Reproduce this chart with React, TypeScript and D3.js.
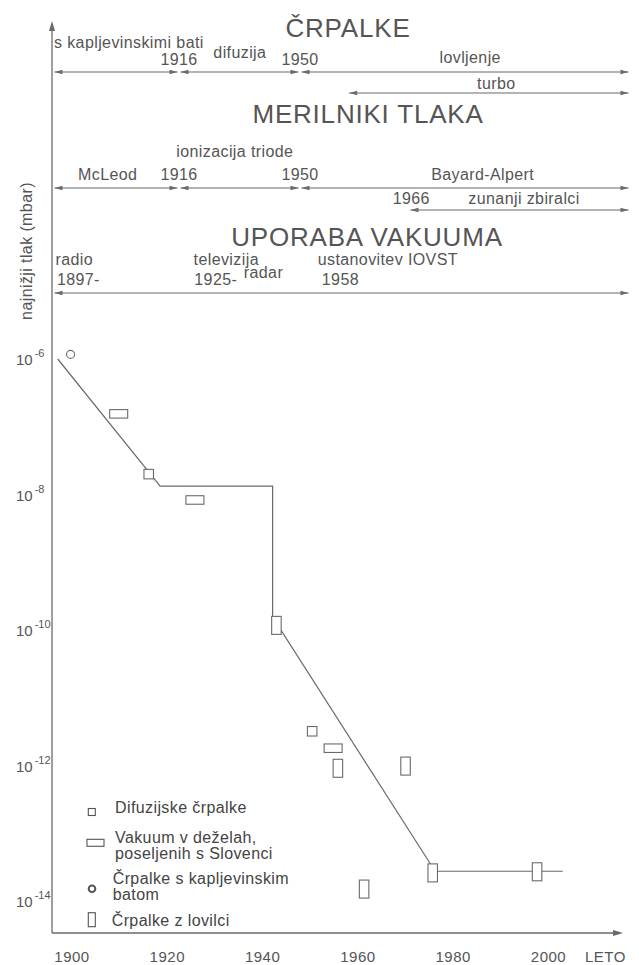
import React, { useEffect, useRef } from 'react';
import * as d3 from 'd3';

// najnizji tlak skozi leta
const lineYears = [1897, 1918.5, 1942.1, 1942.1, 1976.2, 2003];
const linePressures = [1e-6, 1.33e-8, 1.33e-8, 1.55e-10, 2.75e-14, 2.75e-14];

const kapljevinskeYears = [1899.7];
const kapljevinskePressures = [1.17e-6];
const difuzijskeYears = [1916.1, 1950.4];
const difuzijskePressures = [2.0e-8, 3.2e-12];
const slovenciYears = [1909.8, 1925.8, 1954.8];
const slovenciPressures = [1.55e-7, 8.3e-9, 1.8e-12];
const lovilciYears = [1942.9, 1955.8, 1961.3, 1970.0, 1975.7, 1997.6];
const lovilciPressures = [1.17e-10, 9.1e-13, 1.5e-14, 9.8e-13, 2.6e-14, 2.7e-14];

const xTicks = [1900, 1920, 1940, 1960, 1980, 2000];
const yTickExponents = [-6, -8, -10, -12, -14];

// casovnica zgoraj
const sectionTitles = ['ČRPALKE', 'MERILNIKI TLAKA', 'UPORABA VAKUUMA'];
const pumpBounds = [1890, 1916, 1950, 2005];
const turboSpan = [1957, 2005];
const gaugeBounds = [1890, 1916, 1950, 2005];
const externalSpan = [1966, 2005];
const useSpan = [1890, 2005];

const pumpLabels = ['s kapljevinskimi bati', '1916', 'difuzija', '1950', 'lovljenje', 'turbo'];
const pumpLabelYears = [1890.2, 1916, 1933.1, 1950, 1976.8, 1981.4];
const gaugeLabels = ['ionizacija triode', 'McLeod', '1916', '1950', 'Bayard-Alpert', '1966', 'zunanji zbiralci'];
const gaugeLabelYears = [1931.7, 1901.3, 1916, 1950, 1979, 1966.4, 1986.3];
const useLabels = ['radio', '1897-', 'televizija', '1925-', 'radar', 'ustanovitev IOVST', '1958'];
const useLabelYears = [1890.5, 1890.8, 1920.1, 1920.3, 1934.2, 1952.6, 1953.2];

const legendLabels = [
  ['Difuzijske črpalke'],
  ['Vakuum v deželah,', 'poseljenih s Slovenci'],
  ['Črpalke s kapljevinskim', 'batom'],
  ['Črpalke z lovilci'],
];

const FONT = "'Liberation Sans', Arial, Helvetica, sans-serif";
const INK = '#555';
const LINE = '#6a6a6a';

function App() {
  const svgRef = useRef<SVGSVGElement>(null);

  useEffect(() => {
    document.body.style.margin = '0';
    const width = 639;
    const height = 965;
    const axisX = 52;
    const axisY = 933;

    const x = d3.scaleLinear().domain([1900, 2000]).range([72, 548.5]);
    const y = d3.scaleLog().domain([1e-6, 1e-14]).range([359, 901]);
    const hx = d3.scaleLinear().domain([1890, 1916, 1950, 1966, 2005]).range([53, 179, 300, 409, 630]);

    const svg = d3.select(svgRef.current);
    svg.selectAll('*').remove();
    svg.attr('width', width).attr('height', height).style('font-family', FONT);

    const head = (g: any, tx: number, ty: number, dir: string, len = 8, hw = 2.2) => {
      let p;
      if (dir === 'left') p = [[tx, ty], [tx + len, ty - hw], [tx + len, ty + hw]];
      else if (dir === 'right') p = [[tx, ty], [tx - len, ty - hw], [tx - len, ty + hw]];
      else p = [[tx, ty], [tx - hw, ty + len], [tx + hw, ty + len]];
      g.append('path').attr('d', d3.line()(p as any) + 'Z').attr('fill', LINE);
    };

    const span = (g: any, a: number, b: number, yy: number) => {
      const x0 = hx(a) + 1.5;
      const x1 = hx(b) - 1.5;
      g.append('line').attr('x1', x0).attr('x2', x1).attr('y1', yy).attr('y2', yy)
        .attr('stroke', LINE).attr('stroke-width', 1.1);
      head(g, x0, yy, 'left');
      head(g, x1, yy, 'right');
    };

    const labels = (g: any, texts: string[], yrs: number[], ys: number[], anchors: string[]) => {
      texts.forEach((t, i) => {
        g.append('text')
          .attr('x', hx(yrs[i]))
          .attr('y', ys[i])
          .attr('text-anchor', anchors[i])
          .attr('font-size', 16)
          .attr('letter-spacing', 0.4)
          .attr('fill', INK)
          .text(t);
      });
    };

    // header
    const header = svg.append('g');
    const titleX = [348, 368, 367];
    const titleY = [36.5, 123, 246];
    sectionTitles.forEach((t, i) => {
      header.append('text')
        .attr('x', titleX[i]).attr('y', titleY[i])
        .attr('text-anchor', 'middle')
        .attr('font-size', 26).attr('letter-spacing', 0.8)
        .attr('fill', INK).text(t);
    });

    d3.pairs(pumpBounds).forEach(([a, b]) => span(header, a, b, 72));
    span(header, turboSpan[0], turboSpan[1], 93);
    labels(header, pumpLabels, pumpLabelYears, [48, 65, 58, 65, 63, 89],
      ['start', 'middle', 'middle', 'middle', 'middle', 'middle']);

    d3.pairs(gaugeBounds).forEach(([a, b]) => span(header, a, b, 188));
    span(header, externalSpan[0], externalSpan[1], 210);
    labels(header, gaugeLabels, gaugeLabelYears, [157, 180, 180, 180, 180, 204, 204],
      ['middle', 'middle', 'middle', 'middle', 'middle', 'middle', 'middle']);

    span(header, useSpan[0], useSpan[1], 293);
    labels(header, useLabels, useLabelYears, [265, 285, 265, 285, 278, 265, 285],
      ['start', 'start', 'start', 'start', 'start', 'start', 'start']);

    // axes
    const axes = svg.append('g');
    axes.append('line').attr('x1', axisX).attr('x2', axisX).attr('y1', 30).attr('y2', axisY)
      .attr('stroke', LINE).attr('stroke-width', 1.3);
    head(axes, axisX, 21, 'up', 10, 3);
    axes.append('line').attr('x1', axisX).attr('x2', 614).attr('y1', axisY).attr('y2', axisY)
      .attr('stroke', LINE).attr('stroke-width', 1.3);
    head(axes, 623, axisY, 'right', 10, 3);

    xTicks.forEach(t => {
      axes.append('text').attr('x', x(t)).attr('y', 962).attr('text-anchor', 'middle')
        .attr('font-size', 15).attr('letter-spacing', 0.5).attr('fill', INK).text(t);
    });
    axes.append('text').attr('x', 585).attr('y', 962).attr('font-size', 15)
      .attr('letter-spacing', 0.5).attr('fill', INK).text('LETO');

    yTickExponents.forEach(e => {
      const t = axes.append('text').attr('x', 16).attr('y', y(Math.pow(10, e)) + 6)
        .attr('font-size', 15).attr('fill', INK);
      t.append('tspan').text('10');
      t.append('tspan').attr('dx', 2).attr('dy', -8).attr('font-size', 11).text(String(e));
    });

    axes.append('text')
      .attr('transform', 'translate(32,251) rotate(-90)')
      .attr('text-anchor', 'middle')
      .attr('font-size', 16).attr('letter-spacing', 0.4)
      .attr('fill', INK).text('najnižji tlak (mbar)');

    // line
    const pts = lineYears.map((yr, i) => [x(yr), y(linePressures[i])] as [number, number]);
    svg.append('path').attr('d', d3.line()(pts)).attr('fill', 'none')
      .attr('stroke', LINE).attr('stroke-width', 1.2);

    // markers
    const marks = svg.append('g').attr('fill', '#fff').attr('stroke', LINE).attr('stroke-width', 1.1);
    const box = (cx: number, cy: number, w: number, h: number) =>
      marks.append('rect').attr('x', cx - w / 2).attr('y', cy - h / 2).attr('width', w).attr('height', h);

    kapljevinskeYears.forEach((yr, i) => {
      marks.append('circle').attr('cx', x(yr)).attr('cy', y(kapljevinskePressures[i])).attr('r', 4);
    });
    difuzijskeYears.forEach((yr, i) => box(x(yr), y(difuzijskePressures[i]), 9.5, 9.5));
    slovenciYears.forEach((yr, i) => box(x(yr), y(slovenciPressures[i]), 18, 8.5));
    lovilciYears.forEach((yr, i) => box(x(yr), y(lovilciPressures[i]), 9.5, 18));

    // legend
    const legend = svg.append('g');
    const lg = legend.append('g').attr('fill', '#fff').attr('stroke', '#555').attr('stroke-width', 1.1);
    lg.append('rect').attr('x', 88.3).attr('y', 808.5).attr('width', 7).attr('height', 7);
    lg.append('rect').attr('x', 87).attr('y', 839.3).attr('width', 17).attr('height', 7);
    lg.append('circle').attr('cx', 92).attr('cy', 888.7).attr('r', 3.3).attr('stroke-width', 2);
    lg.append('rect').attr('x', 88.3).attr('y', 912.7).attr('width', 7).attr('height', 14);

    const legendX = [115, 115, 112.7, 111.7];
    const legendY = [813.3, 843.3, 884.3, 925.7];
    legendLabels.forEach((lines, i) => {
      lines.forEach((l, j) => {
        legend.append('text').attr('x', legendX[i]).attr('y', legendY[i] + j * 15.5)
          .attr('font-size', 16).attr('letter-spacing', 0.4).attr('fill', '#444').text(l);
      });
    });
  }, []);

  return <svg ref={svgRef} style={{ display: 'block' }}></svg>;
}

export default App;
